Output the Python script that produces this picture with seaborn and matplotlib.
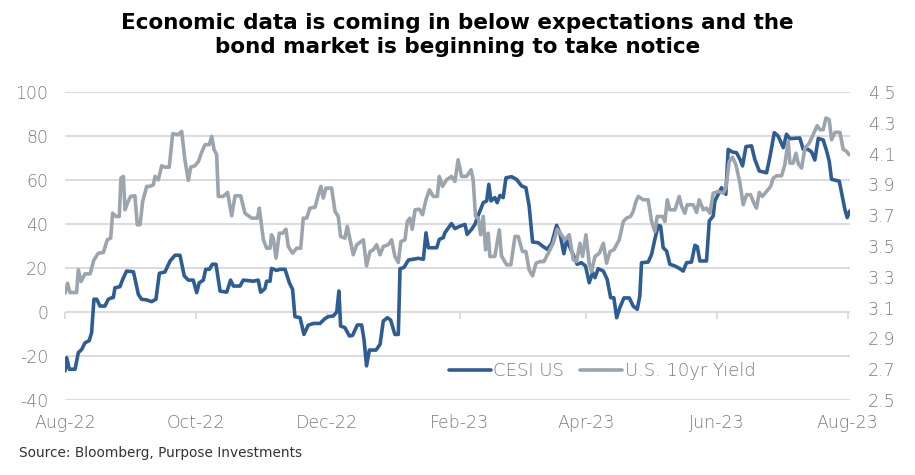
import numpy as np
import pandas as pd
import matplotlib
matplotlib.use("Agg")
import matplotlib.pyplot as plt
import matplotlib.dates as mdates
import matplotlib.ticker as mticker
import seaborn as sns

sns.set_theme(style="white")
plt.rcParams["font.family"] = ["DejaVu Sans"]
plt.rcParams["axes.unicode_minus"] = False

# ---------------- data ----------------
start_date = "2022-08-01"

cesi_days = [0.0, 0.8, 2.0, 4.7, 6.2, 7.8, 9.3, 11.3, 12.4, 13.5, 14.8, 16.3, 18.6, 20.2, 21.8, 22.5,
             23.3, 25.6, 26.9, 28.7, 31.9, 34.2, 35.7, 38.1, 40.4, 42.4, 44.0, 46.6, 49.0, 51.3, 53.6,
             55.6, 57.5, 59.8, 61.4, 62.6, 64.5, 65.6, 67.3, 68.7, 70.4, 72.3, 75.4, 77.2, 78.5, 81.6,
             83.1, 87.8, 90.1, 91.2, 93.2, 94.0, 95.6, 96.3, 98.7, 100.2, 102.6, 104.6, 106.1, 107.2,
             109.6, 111.4, 113.4, 115.8, 118.9, 121.2, 122.8, 125.1, 126.7, 127.7, 128.5, 130.5, 132.6,
             134.1, 136.3, 138.3, 139.4, 140.6, 141.9, 145.0, 146.9, 148.4, 150.3, 151.8, 153.8, 155.4,
             156.2, 158.0, 160.1, 162.4, 164.7, 167.1, 168.3, 169.4, 173.3, 174.5, 176.4, 177.1, 180.2,
             181.8, 184.1, 186.5, 187.5, 189.6, 191.1, 192.7, 195.0, 196.6, 197.6, 198.6, 200.4, 201.5,
             202.8, 204.3, 205.6, 208.2, 210.5, 212.9, 214.9, 216.4, 218.0, 220.6, 223.0, 224.8, 226.9,
             229.2, 230.7, 232.6, 233.9, 236.2, 238.8, 240.8, 242.7, 244.4, 246.0, 247.1, 248.6, 251.0,
             252.8, 254.4, 255.9, 257.2, 258.7, 260.6, 263.1, 264.9, 266.8, 268.0, 268.8, 271.9, 273.5,
             275.0, 276.6, 277.7, 278.9, 280.5, 282.0, 284.4, 286.7, 288.2, 289.8, 292.1, 293.7, 294.8,
             296.0, 299.1, 300.4, 302.2, 303.0, 306.1, 308.1, 309.2, 311.2, 313.1, 314.7, 315.9, 317.5,
             320.1, 321.6, 323.7, 327.1, 328.6, 330.7, 332.5, 334.9, 336.4, 338.0, 342.6, 344.2, 346.5,
             348.1, 349.6, 351.2, 353.5, 355.1, 356.3, 357.4, 361.0, 362.5, 363.6, 364.7, 365.9]
cesi_values = [-26.8, -20.8, -26, -26, -18.5, -17, -14, -13, -9.4, 5.8, 5.8, 2.7, 2.7, 5.8, 6.5, 6.5,
               11, 11.5, 14.8, 18.6, 18.3, 8, 5.8, 5.5, 4.7, 5.8, 17.6, 18.2, 23.2, 25.8, 25.8,
               16.4, 14.5, 14.5, 8.8, 13.3, 14.5, 19.4, 19.4, 21.7, 21.7, 9.5, 9, 14.5, 11.8, 11.8,
               14.5, 14, 14.5, 9, 10.6, 14, 14, 19.8, 18.9, 19.4, 19.4, 13.3, 10.3, -2.1,
               -2.6, -10.2, -6, -5.2, -5.2, -3, -2.1, -1.8, 0, 9.5, -6.4, -7.1, -10.9,
               -10.6, -5.9, -5.9, -12.4, -24.5, -17.3, -17.3, -14.7, -4.1, -2.6, -3.6, -10.2, -10.2,
               19.7, 20.2, 23.6, 24, 24.4, 24, 36, 29.2, 29.2, 33, 33.8, 36, 40.2,
               37.9, 39, 39.8, 35.3, 37.6, 39.8, 44, 49.7, 50.5, 58, 50.5, 52, 49.7,
               53, 52, 61, 61.5, 60.3, 57.3, 56.5, 48.2, 31.8, 31.5, 29.7, 28.5, 31.2,
               39.4, 36, 26.5, 32.7, 27.7, 21.7, 22.4, 20.9, 13.3, 17.9, 15.6, 19.7, 18.6,
               14.8, 6.5, 6.5, -2.6, 2, 6.4, 6.4, 2.7, 1.2, 7.3, 22.4, 22.7, 26.2,
               33, 39.4, 39, 29.2, 27.7, 21.7, 20.9, 19.7, 18.6, 22.4, 22.7, 30.3, 29.7,
               23.2, 23.2, 41.4, 43.6, 50.5, 56.5, 53.5, 73.9, 72.7, 72.4, 69.4, 66.4, 75.2,
               75.5, 69.4, 64.1, 63.3, 70.2, 81.5, 80, 74.7, 80.8, 78.8, 79.1, 73.9, 73.9,
               72.7, 69.1, 78.9, 78.2, 73.2, 68.6, 60.3, 59.5, 52, 46.7, 42.9, 45.9]

yield_days = [0.0, 1.2, 2.3, 5.4, 6.2, 7.5, 9.3, 11.7, 13.5, 15.5, 17.9, 19.7, 21.3, 22.2, 23.8, 25.3,
              26.1, 27.2, 28.0, 29.1, 30.6, 32.6, 33.7, 35.0, 36.2, 38.1, 39.6, 41.2, 42.0, 43.5, 45.1,
              46.6, 48.6, 50.2, 52.8, 54.4, 55.9, 57.5, 58.6, 60.6, 62.2, 63.7, 65.3, 67.3, 68.4, 69.5,
              70.7, 71.5, 73.8, 75.8, 77.7, 79.3, 81.9, 83.9, 87.0, 89.7, 90.6, 92.5, 94.0, 95.6, 96.3,
              97.1, 98.4, 99.9, 101.5, 103.0, 104.1, 106.1, 108.0, 109.9, 111.1, 112.7, 114.2, 116.6,
              118.1, 119.3, 120.4, 121.7, 124.3, 125.9, 127.4, 128.5, 130.5, 131.6, 132.9, 134.4, 136.0,
              139.1, 140.6, 142.2, 143.7, 145.3, 146.9, 148.4, 150.7, 152.3, 153.8, 155.4, 156.6, 158.5,
              159.6, 160.8, 161.9, 163.2, 165.2, 166.7, 168.3, 169.9, 171.7, 173.6, 174.5, 176.0, 177.9,
              180.2, 181.8, 183.3, 184.9, 187.2, 189.3, 190.3, 191.4, 192.7, 193.8, 195.0, 196.1, 197.3,
              198.1, 200.4, 202.5, 203.5, 205.9, 207.9, 209.8, 211.3, 213.3, 214.9, 216.4, 218.0, 219.6,
              221.4, 223.3, 225.3, 227.6, 229.5, 231.1, 233.1, 235.1, 237.0, 238.5, 240.1, 241.3, 242.9,
              244.4, 245.5, 247.1, 249.1, 251.0, 252.5, 254.1, 255.9, 258.4, 260.3, 261.8, 263.7, 264.9,
              266.2, 267.3, 269.6, 271.9, 273.5, 275.0, 276.1, 278.6, 279.7, 280.8, 282.0, 284.4, 286.4,
              287.5, 289.0, 290.1, 292.9, 294.5, 295.7, 297.6, 299.1, 300.7, 302.2, 304.6, 306.9, 308.1,
              309.7, 311.2, 312.8, 314.7, 316.2, 317.8, 319.6, 321.2, 322.4, 323.7, 325.2, 327.1, 329.0,
              330.2, 331.8, 334.1, 335.6, 337.2, 338.0, 339.5, 340.8, 341.9, 343.4, 345.0, 347.0, 348.8,
              350.7, 352.0, 353.5, 354.8, 356.3, 357.4, 359.0, 361.3, 362.8, 364.4, 365.6]
yield_values = [3.193, 3.258, 3.198, 3.198, 3.345, 3.269, 3.319, 3.319, 3.41, 3.453, 3.458, 3.54, 3.551,
                3.713, 3.692, 3.692, 3.941, 3.952, 3.735, 3.778, 3.822, 3.826, 3.638, 3.638, 3.789, 3.887,
                3.887, 3.898, 3.952, 3.93, 4.021, 4.012, 4.012, 4.229, 4.223, 4.244, 4.06, 3.926, 4.012,
                4.021, 4.049, 4.108, 4.158, 4.158, 4.212, 4.125, 4.093, 3.822, 3.822, 3.848, 3.696, 3.826,
                3.826, 3.713, 3.681, 3.681, 3.746, 3.54, 3.486, 3.486, 3.573, 3.551, 3.421, 3.583, 3.583,
                3.609, 3.497, 3.453, 3.486, 3.486, 3.681, 3.681, 3.746, 3.752, 3.833, 3.887, 3.811, 3.876,
                3.876, 3.724, 3.692, 3.562, 3.551, 3.627, 3.54, 3.443, 3.508, 3.54, 3.371, 3.464, 3.475,
                3.508, 3.443, 3.497, 3.508, 3.54, 3.432, 3.393, 3.529, 3.54, 3.659, 3.681, 3.609, 3.735,
                3.739, 3.703, 3.8, 3.865, 3.822, 3.822, 3.952, 3.887, 3.93, 3.952, 3.919, 4.06, 3.952,
                3.952, 3.995, 3.93, 3.692, 3.681, 3.573, 3.692, 3.475, 3.583, 3.432, 3.432, 3.605, 3.436,
                3.378, 3.378, 3.562, 3.562, 3.464, 3.464, 3.345, 3.306, 3.388, 3.399, 3.399, 3.453, 3.518,
                3.609, 3.579, 3.54, 3.573, 3.41, 3.399, 3.518, 3.432, 3.573, 3.388, 3.334, 3.432, 3.453,
                3.518, 3.388, 3.464, 3.475, 3.54, 3.659, 3.681, 3.692, 3.724, 3.789, 3.822, 3.8, 3.8,
                3.659, 3.594, 3.692, 3.692, 3.659, 3.8, 3.735, 3.735, 3.822, 3.757, 3.713, 3.768, 3.768,
                3.718, 3.8, 3.735, 3.746, 3.713, 3.843, 3.854, 3.843, 3.876, 4.049, 4.077, 4.028, 3.908,
                3.768, 3.833, 3.833, 3.778, 3.746, 3.848, 3.822, 3.854, 3.887, 3.941, 3.956, 3.956, 4.028,
                4.179, 4.038, 4.038, 4.103, 4.034, 4.006, 4.136, 4.168, 4.223, 4.281, 4.255, 4.255, 4.331,
                4.32, 4.19, 4.238, 4.238, 4.129, 4.114, 4.093]

tick_dates = ["2022-08-01", "2022-10-01", "2022-12-01", "2023-02-01", "2023-04-01", "2023-06-01", "2023-08-01"]
tick_labels = ["Aug-22", "Oct-22", "Dec-22", "Feb-23", "Apr-23", "Jun-23", "Aug-23"]
left_ticks = [-40, -20, 0, 20, 40, 60, 80, 100]
right_ticks = [2.5, 2.7, 2.9, 3.1, 3.3, 3.5, 3.7, 3.9, 4.1, 4.3, 4.5]

title = "Economic data is coming in below expectations and the\nbond market is beginning to take notice"
source = "Source: Bloomberg, Purpose Investments"

# ---------------- frames ----------------
t0 = pd.Timestamp(start_date)
cesi_df = pd.DataFrame({"date": t0 + pd.to_timedelta(cesi_days, unit="D"), "value": cesi_values})
yld_df = pd.DataFrame({"date": t0 + pd.to_timedelta(yield_days, unit="D"), "value": yield_values})

BLUE = "#2e5d93"
GRAY = "#9ba5ae"
TICK_C = "#7b7b7b"
GRID_C = "#d9d9d9"

fig = plt.figure(figsize=(9.15, 4.75), dpi=100)
ax = fig.add_axes([65 / 915, 75 / 475, 785 / 915, 308 / 475])
ax2 = ax.twinx()

sns.lineplot(data=cesi_df, x="date", y="value", ax=ax, color=BLUE, lw=2.6, label="CESI US", legend=False)
sns.lineplot(data=yld_df, x="date", y="value", ax=ax2, color=GRAY, lw=2.6, label="U.S. 10yr Yield", legend=False)

ax.set_ylim(-40, 100)
ax2.set_ylim(2.5, 4.5)
ax.set_xlim(t0, t0 + pd.Timedelta(days=366))

ax.set_yticks(left_ticks)
ax2.set_yticks(right_ticks)
ax2.yaxis.set_major_formatter(mticker.FormatStrFormatter("%.1f"))
ax.set_xticks(pd.to_datetime(tick_dates))
ax.set_xticklabels(tick_labels)

ax.set_xlabel("")
ax.set_ylabel("")
ax2.set_ylabel("")

for a in (ax, ax2):
    for s in a.spines.values():
        s.set_visible(False)
ax.grid(axis="y", color=GRID_C, lw=1.3)
ax.grid(axis="x", visible=False)
ax2.grid(False)
ax.set_axisbelow(True)

TS = 12.5
ax.tick_params(axis="y", length=0, pad=12, labelsize=TS, labelcolor=TICK_C)
ax2.tick_params(axis="y", length=0, pad=13, labelsize=TS, labelcolor=TICK_C)
ax.tick_params(axis="x", length=0, pad=10, labelsize=TS, labelcolor=TICK_C)
for lab in ax.get_xticklabels() + ax.get_yticklabels() + ax2.get_yticklabels():
    lab.set_fontweight("light")

# small tick marks sitting on the zero line
sec = ax.secondary_xaxis(40 / 140)
sec.set_xticks(pd.to_datetime(tick_dates))
sec.set_xticklabels([])
sec.tick_params(axis="x", direction="out", length=5, width=1.2, color=GRID_C)
sec.spines["bottom"].set_visible(False)

h1, l1 = ax.get_legend_handles_labels()
h2, l2 = ax2.get_legend_handles_labels()
leg = fig.legend(h1 + h2, l1 + l2, loc="center left", bbox_to_anchor=(449 / 915, 1 - 371 / 475),
                 ncol=2, frameon=False, fontsize=13, handlelength=2.3, handletextpad=0.15,
                 columnspacing=0.9, labelcolor=TICK_C, borderaxespad=0, borderpad=0)
for t in leg.get_texts():
    t.set_fontweight("light")

fig.text(0.5, 1 - 35 / 475, title, ha="center", va="center", fontsize=15.5, fontweight="bold",
         color="black", linespacing=1.2)
fig.text(19 / 915, 1 - 453 / 475, source, ha="left", va="center", fontsize=9.8, color="#333333")

fig.savefig("out.png", dpi=100)
